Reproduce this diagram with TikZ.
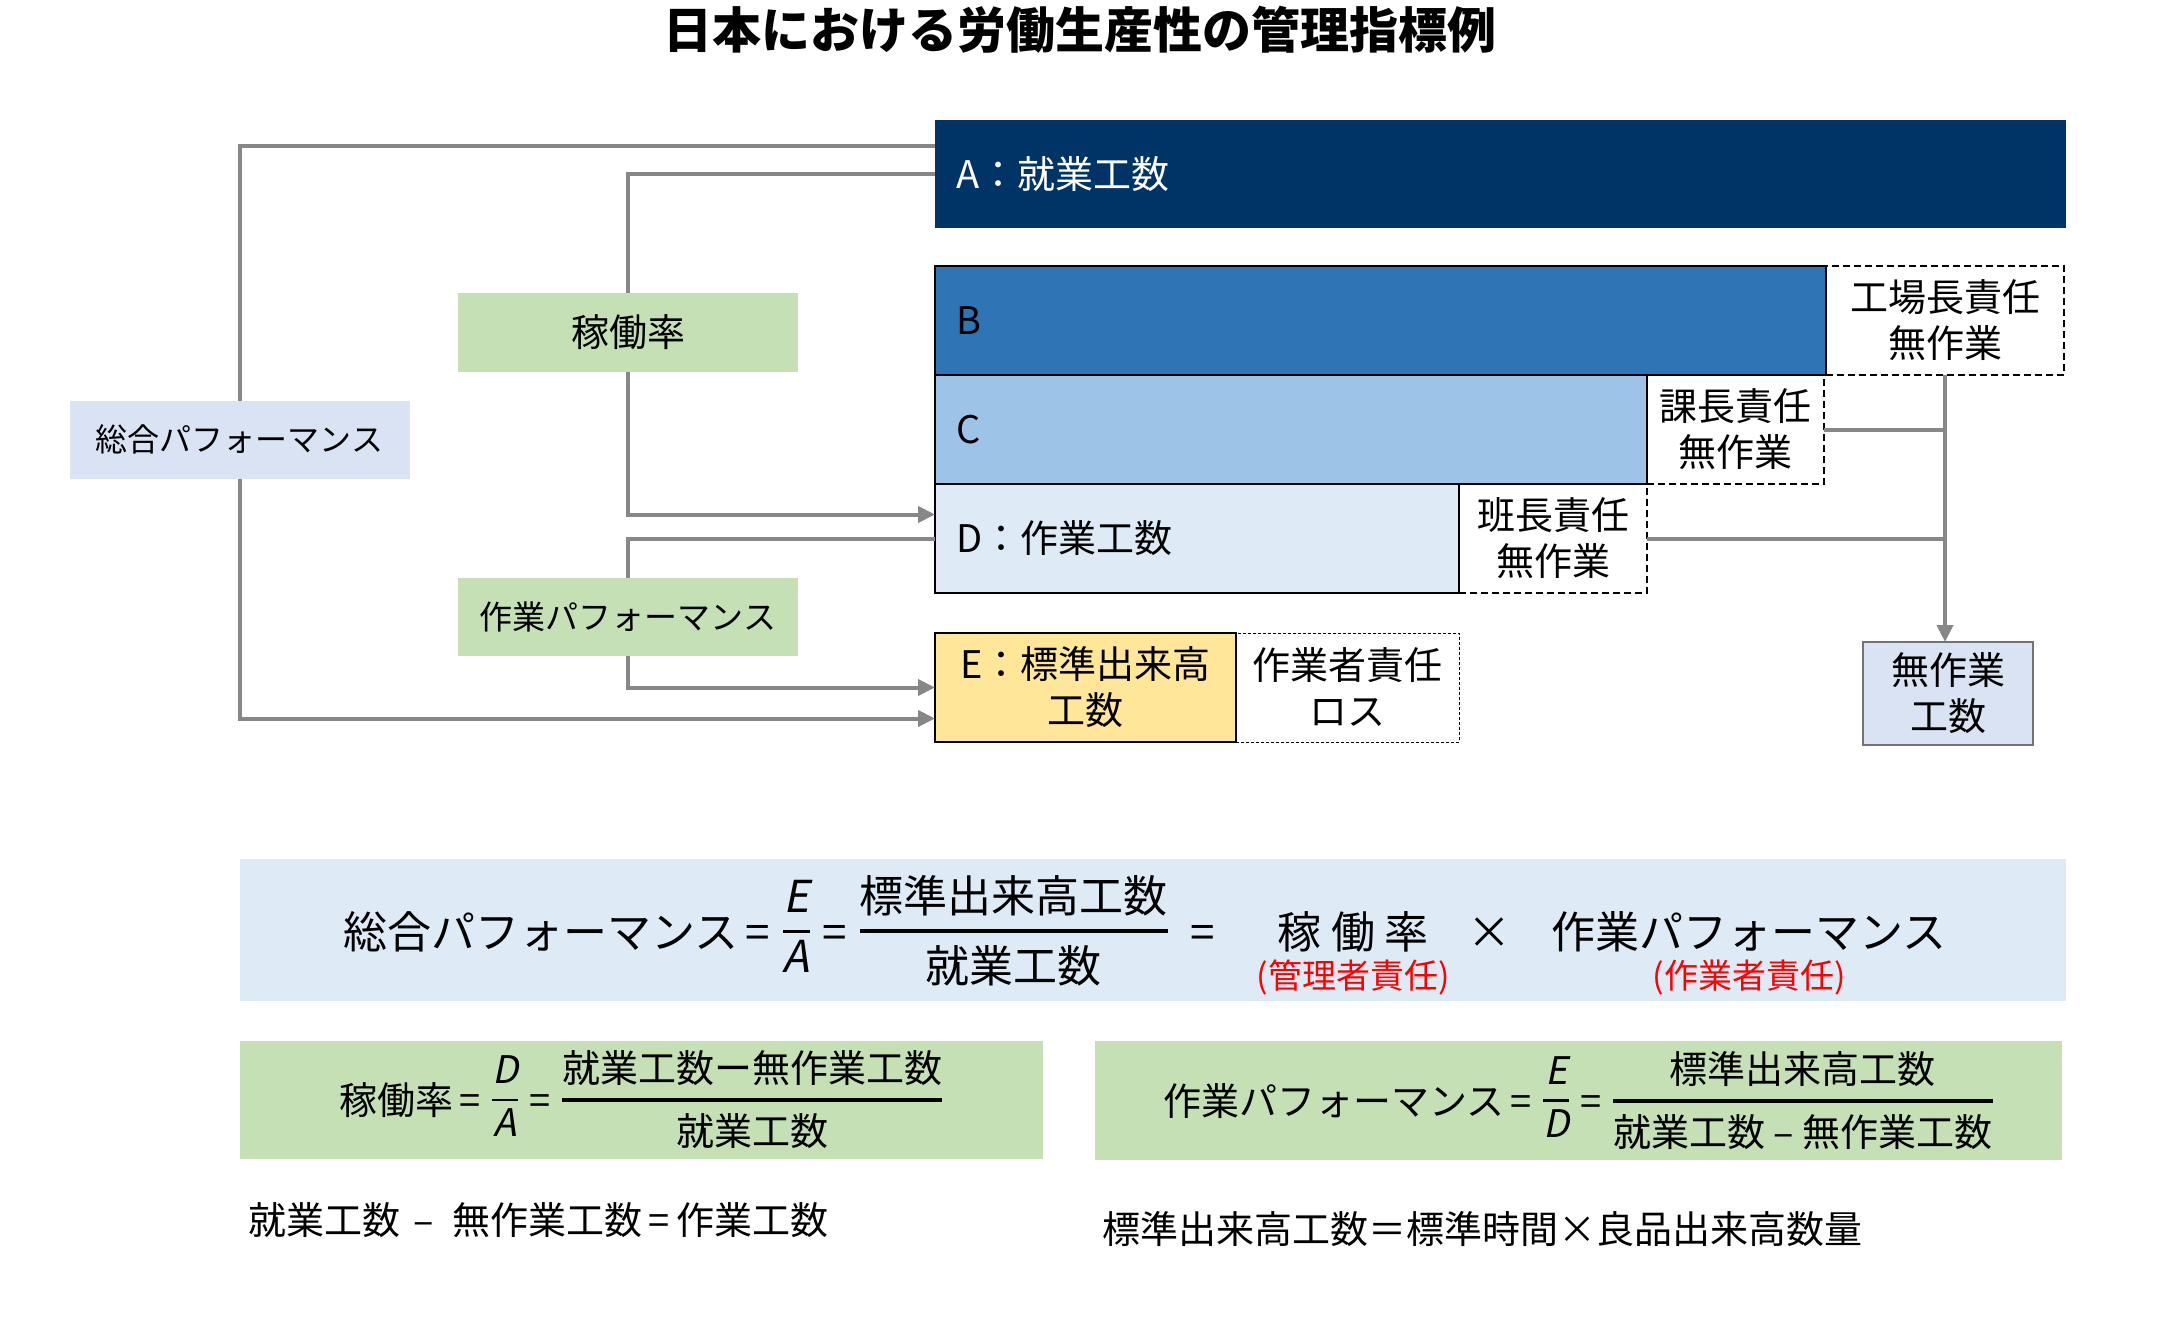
\RequirePackage{fix-cm}
\documentclass[tikz,border=0pt]{standalone}
\usepackage{amsmath}
\usepackage{fontspec}
\setmainfont{Noto Sans CJK JP}
\newfontfamily\slantjp{Noto Sans CJK JP}[FakeSlant=0.2]
\usetikzlibrary{arrows.meta,positioning}

\definecolor{navy}{HTML}{003366}
\definecolor{blueB}{HTML}{2E75B6}
\definecolor{blueC}{HTML}{9DC3E6}
\definecolor{blueD}{HTML}{DEEBF7}
\definecolor{yellowE}{HTML}{FFE699}
\definecolor{paleblue}{HTML}{DAE3F3}
\definecolor{palegreen}{HTML}{C5E0B4}
\definecolor{linegray}{HTML}{878787}

\newcommand{\fsz}[2]{\fontsize{#1}{#2}\selectfont}
\newcommand{\frc}[3]{\hspace{0.1em}\raisebox{0.13em}{$\genfrac{}{}{#1}{0}{\text{#2}}{\text{#3}}$}\hspace{0.1em}}
\newcommand{\iv}[1]{{\slantjp #1}}
\newcommand{\eq}{\,=\,}

\begin{document}
\begin{tikzpicture}[x=1pt, y=-1pt, >={Triangle[length=17pt,width=16pt]}, every node/.style={font=\fsz{38}{46}, inner sep=0pt, outer sep=0pt}]
\tikzstyle{bar}=[draw=black, line width=2pt, anchor=north west, inner xsep=21pt, align=left, minimum height=109pt]
\tikzstyle{duty}=[draw=black, line width=1.8pt, dash pattern=on 7pt off 4pt, align=center, minimum height=109pt]
\tikzstyle{tag}=[align=center, minimum width=340pt, minimum height=78pt]
\tikzstyle{fbox}=[anchor=north west]
\tikzstyle{conn}=[draw=linegray, line width=4pt]
\tikzstyle{resp}=[text=red, font=\fsz{34}{40}, anchor=base]
\useasboundingbox (0,0) rectangle (2160,1319);

\node[font=\bfseries\fsz{49}{58}] (title) at (1080,30) {日本における労働生産性の管理指標例};

\node[bar, draw=none, fill=navy, text=white, minimum width=1131pt, text width=1089pt, minimum height=108pt] (A) at (935,120) {A：就業工数};
\node[bar, fill=blueB, minimum width=891pt, text width=849pt] (B) at (935,266) {B};
\node[bar, fill=blueC, minimum width=712pt, text width=670pt] (C) at (B.south west) {C};
\node[bar, fill=blueD, minimum width=524pt, text width=482pt] (D) at (C.south west) {D：作業工数};
\node[bar, fill=yellowE, minimum width=301pt, inner xsep=8pt, text width=285pt, align=center] (E) at (935,633) {E：標準出来高\\工数};

\node[duty, right=0pt of B, minimum width=238pt] (fac) {工場長責任\\無作業};
\node[duty, right=0pt of C, minimum width=177pt] (sec) {課長責任\\無作業};
\node[duty, right=0pt of D, minimum width=188pt] (grp) {班長責任\\無作業};
\node[duty, right=0pt of E, minimum width=223pt, line width=1pt, dash pattern=on 3pt off 2pt] (loss) {作業者責任\\ロス};
\node[draw=black!55, line width=1.5pt, fill=paleblue, align=center, minimum width=170pt, minimum height=103pt, anchor=north west] (none) at (1863,642) {無作業\\工数};

\node[tag, fill=paleblue, font=\fsz{32}{38}] (tot) at (239.5,439.5) {総合パフォーマンス};
\node[tag, fill=palegreen, minimum height=79pt] (rate) at (628,332.5) {稼働率};
\node[tag, fill=palegreen, font=\fsz{33}{40}] (perf) at (628,617) {作業パフォーマンス};

\draw[conn] ([yshift=28pt]A.west) -| (tot.north);
\draw[conn,->] (tot.south) |- ([yshift=-31pt]E.west);
\draw[conn] (A.west) -| (rate.north);
\draw[conn,->] (rate.south) |- ([yshift=24pt]D.west);
\draw[conn] (D.west) -| (perf.north);
\draw[conn,->] (perf.south) |- (E.west);
\draw[conn,->] (fac.south) -- (fac.south |- none.north);
\draw[conn] (sec.east) -- (sec.east -| fac.south);
\draw[conn] (grp.east) -- (grp.east -| fac.south);

\node[fbox, fill=blueD, minimum width=1826pt, minimum height=142pt] (fmain) at (240,859) {};
\node[anchor=base west, font=\fsz{44}{52}] (ftot) at (343,948) {総合パフォーマンス\eq\frc{2.5pt}{\iv{E}}{\iv{A}}\eq\frc{4pt}{標準出来高工数}{就業工数}\ \,=};
\node[anchor=base, font=\fsz{44}{52}] (rt) at (1353,948) {稼 働 率};
\node[anchor=base, font=\fsz{44}{52}] (mul) at (1489,948) {×};
\node[anchor=base, font=\fsz{44}{52}] (pf) at (1749,948) {作業パフォーマンス};
\node[resp] (rtnote) at ([yshift=-40pt]rt.base) {(管理者責任)};
\node[resp] (pfnote) at ([yshift=-40pt]pf.base) {(作業者責任)};

\node[fbox, fill=palegreen, minimum width=803pt, minimum height=118pt] (lg) at (240,1041) {稼働率\eq\frc{2.5pt}{\iv{D}}{\iv{A}}\eq\frc{4pt}{就業工数ー無作業工数}{就業工数}};
\node[fbox, fill=palegreen, minimum width=967pt, minimum height=119pt] (rg) at (1095,1041) {作業パフォーマンス\eq\frc{2.5pt}{\iv{E}}{\iv{D}}\eq\frc{4pt}{標準出来高工数}{就業工数 – 無作業工数}};

\node[anchor=west] (note1) at (248,1220) {就業工数\hspace{0.35em}–\hspace{0.5em}無作業工数\,=\,作業工数};
\node[anchor=west] (note2) at (1102,1229) {標準出来高工数＝標準時間×良品出来高数量};
\end{tikzpicture}
\end{document}
